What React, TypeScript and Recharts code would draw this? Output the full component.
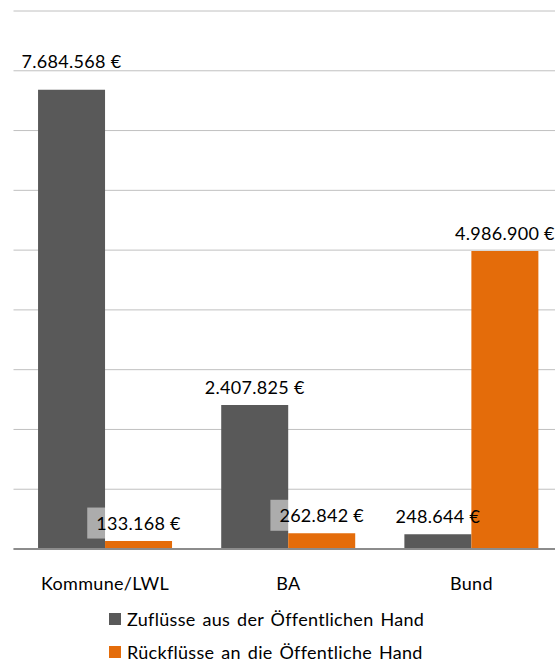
import React from 'react';
import { BarChart, Bar, XAxis, YAxis, CartesianGrid, LabelList } from 'recharts';

const CATEGORIES = ['Kommune/LWL', 'BA', 'Bund'];
const ZUFLUESSE = [7684568, 2407825, 248644];
const RUECKFLUESSE = [133168, 262842, 4986900];
const Y_TICKS = [0, 1000000, 2000000, 3000000, 4000000, 5000000, 6000000, 7000000, 8000000, 9000000];

const SERIES = [
  { key: 'zu', name: 'Zuflüsse aus der Öffentlichen Hand', color: '#595959' },
  { key: 'rueck', name: 'Rückflüsse an die Öffentliche Hand', color: '#E46C0A' },
];

const FONT = 'Lato, "Open Sans", sans-serif';

const data = CATEGORIES.map((name, i) => ({
  name,
  zu: ZUFLUESSE[i],
  rueck: RUECKFLUESSE[i],
}));

const fmt = (v: number) => String(v).replace(/\B(?=(\d{3})+(?!\d))/g, '.') + ' €';

// value labels sit above the bars; the orange ones get a half-transparent white box
const makeLabel = (withBox: boolean) => (props: any) => {
  const { x, y, width, value, index } = props;
  const lift = !withBox && index === 0 ? 29 : 18;
  const cx = x + width / 2;
  const cy = y - lift;
  const text = fmt(value);
  const w = text.length * 9.4 + 18;
  return (
    <g>
      {withBox && (
        <rect x={cx - w / 2} y={cy - 15.5} width={w} height={31} fill="#fff" fillOpacity={0.5} />
      )}
      <text
        x={cx}
        y={cy}
        textAnchor="middle"
        dominantBaseline="central"
        fontFamily={FONT}
        fontSize={18}
        letterSpacing={0.3}
        fill="#000"
      >
        {text}
      </text>
    </g>
  );
};

export default function App() {
  return (
    <div style={{ position: 'absolute', left: 0, top: 0, width: 555, height: 661, overflow: 'hidden', background: '#fff' }}>
      <BarChart
        width={563}
        height={661}
        data={data}
        margin={{ top: 11, right: 0, bottom: 0, left: 13.5 }}
        barCategoryGap="13.4%"
        barGap={0}
      >
        <CartesianGrid vertical={false} stroke="#c0c0c0" strokeWidth={1} />
        <YAxis hide domain={[0, 9000000]} ticks={Y_TICKS} />
        <XAxis
          dataKey="name"
          height={112}
          tickLine={false}
          axisLine={{ stroke: '#8c8c8c', strokeWidth: 2 }}
          tickMargin={22}
          tick={{ fontFamily: FONT, fontSize: 18, fill: '#000', letterSpacing: 0.3 }}
        />
        {SERIES.map((s, si) => (
          <Bar key={s.key} dataKey={s.key} name={s.name} fill={s.color} isAnimationActive={false}>
            <LabelList dataKey={s.key} content={makeLabel(si === 1)} />
          </Bar>
        ))}
      </BarChart>
      <div
        style={{
          position: 'absolute',
          left: 109,
          top: 602,
          fontFamily: FONT,
          fontSize: 18,
          letterSpacing: 0.3,
          wordSpacing: 2,
          lineHeight: '20px',
          color: '#000',
        }}
      >
        {SERIES.map((s) => (
          <div key={s.key} style={{ display: 'flex', alignItems: 'center', height: 33 }}>
            <span style={{ display: 'inline-block', width: 12, height: 12, background: s.color, marginRight: 6 }} />
            <span>{s.name}</span>
          </div>
        ))}
      </div>
    </div>
  );
}
